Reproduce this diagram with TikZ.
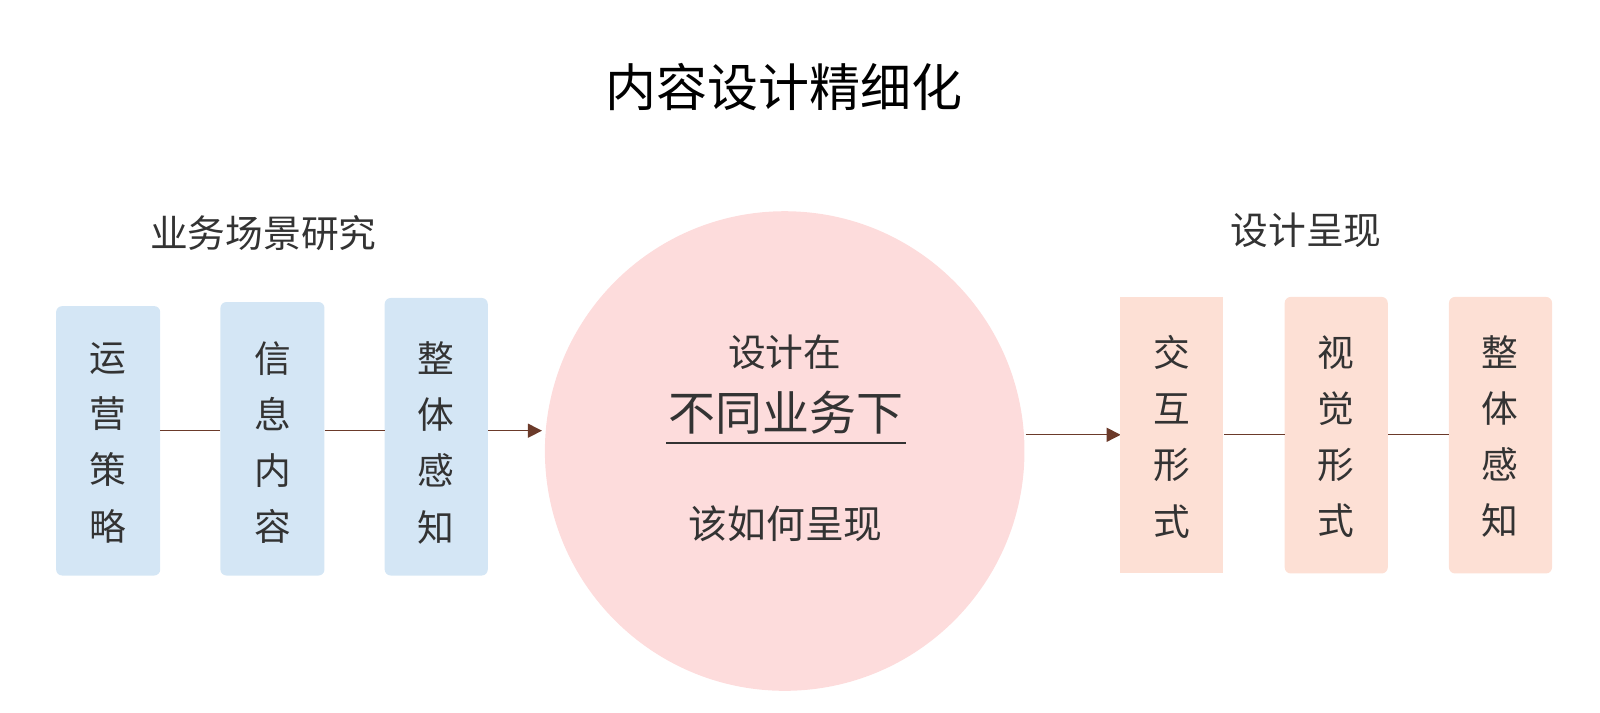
\documentclass[tikz,border=0pt]{standalone}
\usepackage{fontspec}
\setmainfont{Noto Sans CJK SC}
\usetikzlibrary{arrows.meta}
\definecolor{bl}{HTML}{D4E6F5}
\definecolor{pk}{HTML}{FDE0D5}
\definecolor{cc}{HTML}{FDDCDC}
\definecolor{br}{HTML}{6B3A2A}
\definecolor{tx}{HTML}{333333}
\begin{document}
\begin{tikzpicture}[x=1pt,y=-1pt,
  col/.style={text=tx,font=\fontsize{36}{55}\selectfont,align=center},
  ln/.style={draw=br,line width=1.3pt},
  ar/.style={ln,-{Triangle[length=14pt,width=14pt]}}]
\useasboundingbox (0,0) rectangle (1600,712);
\begin{scope}[scale=1.0204,transform shape]
\node[text=black,font=\fontsize{50}{50}\selectfont] (title) at (768,85) {内容设计精细化};
\node[text=tx,font=\fontsize{37}{37}\selectfont] (h1) at (258,228) {业务场景研究};
\node[text=tx,font=\fontsize{37}{37}\selectfont] (h2) at (1280,226) {设计呈现};
\fill[bl,rounded corners=6pt] (55,300) rectangle (157,564);
\fill[bl,rounded corners=6pt] (216,296) rectangle (318,564);
\fill[bl,rounded corners=6pt] (377,292) rectangle (478,564);
\node[col] (b1) at (106,434) {运\\营\\策\\略};
\node[col] (b2) at (267,434) {信\\息\\内\\容};
\node[col] (b3) at (427,434) {整\\体\\感\\知};
\coordinate (l1a) at (157,422); \coordinate (l1b) at (216,422);
\coordinate (l2a) at (318,422); \coordinate (l2b) at (377,422);
\coordinate (l3a) at (478,422); \coordinate (l3b) at (531,422);
\draw[ln] (l1a)--(l1b); \draw[ln] (l2a)--(l2b); \draw[ar] (l3a)--(l3b);
\fill[cc] (769,442) circle (235);
\node[text=tx,font=\fontsize{37}{37}\selectfont] (c1) at (769,345) {设计在};
\node[text=tx,font=\fontsize{46}{46}\selectfont] (c2) at (770,404) {不同业务下};
\coordinate (ua) at (653,434); \coordinate (ub) at (888,434);
\draw[tx,line width=1.2pt] (ua)--(ub);
\node[text=tx,font=\fontsize{38}{38}\selectfont] (c3) at (770,513) {该如何呈现};
\coordinate (r0a) at (1005,426); \coordinate (r0b) at (1098,426);
\draw[ar] (r0a)--(r0b);
\fill[pk] (1098,291) rectangle (1199,562);
\fill[pk,rounded corners=6pt] (1259,291) rectangle (1360,562);
\fill[pk,rounded corners=6pt] (1420,291) rectangle (1521,562);
\node[col] (p1) at (1148,428) {交\\互\\形\\式};
\node[col] (p2) at (1309,428) {视\\觉\\形\\式};
\node[col] (p3) at (1470,428) {整\\体\\感\\知};
\coordinate (r1a) at (1199,426); \coordinate (r1b) at (1259,426);
\coordinate (r2a) at (1360,426); \coordinate (r2b) at (1420,426);
\draw[ln] (r1a)--(r1b); \draw[ln] (r2a)--(r2b);
\end{scope}
\end{tikzpicture}
\end{document}
